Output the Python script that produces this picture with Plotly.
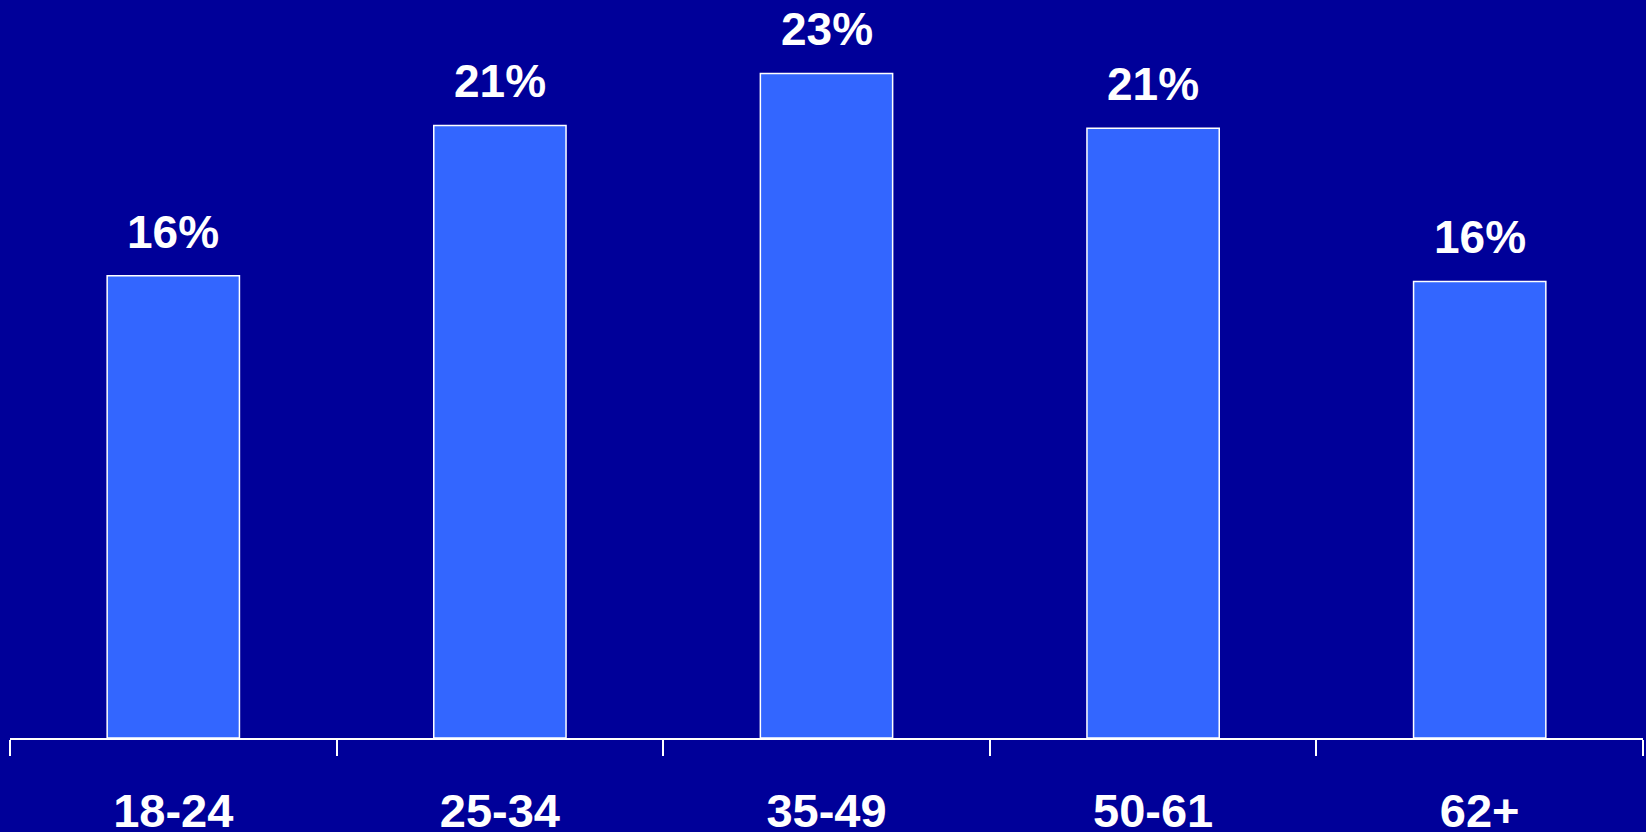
import plotly.graph_objects as go

categories = ["18-24", "25-34", "35-49", "50-61", "62+"]
values = [16.0, 21.2, 23.0, 21.1, 15.8]
labels = ["16%", "21%", "23%", "21%", "16%"]

BG = "#000099"
BAR = "#3366FF"
FONT = "Liberation Sans, Arial, sans-serif"

fig = go.Figure()
fig.add_trace(go.Bar(
    x=categories, y=values,
    marker=dict(color=BAR, line=dict(color="white", width=1.5)),
    hoverinfo="skip",
))
for c, v, t in zip(categories, values, labels):
    fig.add_annotation(x=c, y=v, text=t, showarrow=False, yanchor="bottom",
                       yshift=16, font=dict(family=FONT, size=46, color="white", weight="bold"))

fig.update_layout(
    width=1646, height=832,
    paper_bgcolor=BG, plot_bgcolor=BG,
    margin=dict(l=10, r=3, t=0, b=94, autoexpand=False),
    bargap=0.595,
    showlegend=False,
    xaxis=dict(
        range=[-0.5, 4.5],
        automargin=False,
        showline=True, linecolor="white", linewidth=2,
        ticks="outside", tickson="boundaries", ticklen=16, tickwidth=2, tickcolor="white",
        tickfont=dict(family=FONT, size=47, color="white", weight="bold"),
        ticklabelstandoff=31,
        showgrid=False, zeroline=False,
    ),
    yaxis=dict(range=[0, 25.54], visible=False, showgrid=False, zeroline=False),
)
fig.write_html("out.html")
